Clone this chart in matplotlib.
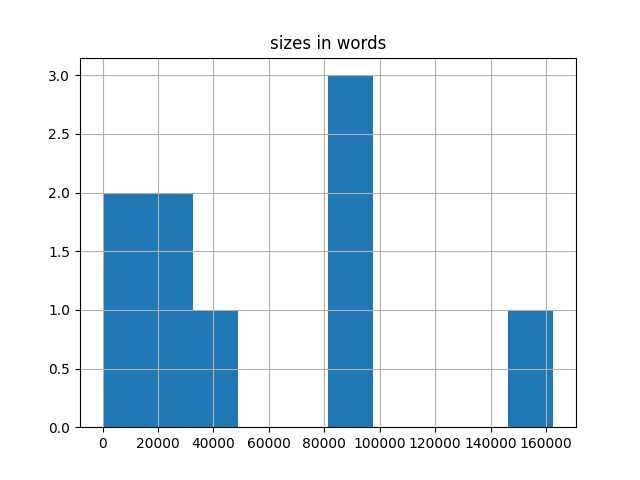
import matplotlib
matplotlib.use("Agg")
import matplotlib.pyplot as plt

sizes_in_words = [0, 9000, 21000, 28000, 41000, 86000, 89000, 93000, 162700]
n_bins = 10
title = "sizes in words"

fig, ax = plt.subplots(figsize=(6.4, 4.8), dpi=100)
ax.hist(sizes_in_words, bins=n_bins, color="#1f77b4")
ax.grid(True)
ax.set_title(title)
fig.savefig("out.png")
